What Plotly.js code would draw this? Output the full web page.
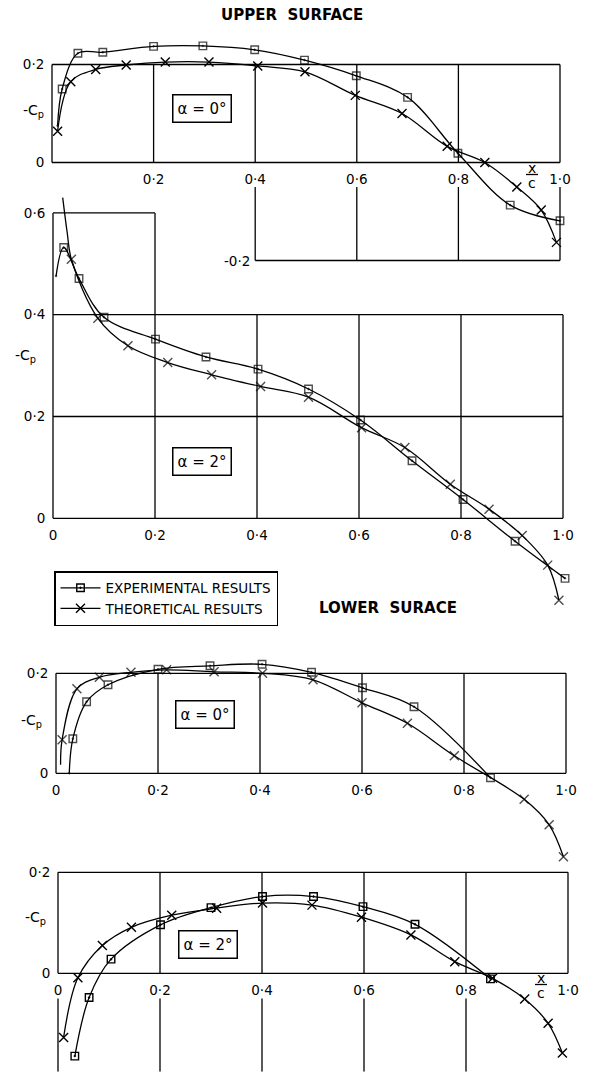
<!DOCTYPE html>
<html>
<head>
<meta charset="utf-8">
<script src="https://cdn.plot.ly/plotly-3.0.1.min.js"></script>
<style>html,body{margin:0;padding:0;background:#fff;}#chart{width:590px;height:1072px;}</style>
</head>
<body>
<div id="chart"></div>
<script>
// ---------------- DATA ----------------
// Upper surface, alpha = 0 deg
const u0ExpLeadX = [0.011];
const u0ExpLeadY = [0.075];
const u0ExpX = [0.020, 0.051, 0.100, 0.200, 0.297, 0.399, 0.497, 0.599, 0.700, 0.799, 0.902, 1.000];
const u0ExpY = [0.150, 0.223, 0.225, 0.237, 0.238, 0.230, 0.209, 0.177, 0.133, 0.019, -0.087, -0.119];
const u0TheoLeadX = [];
const u0TheoLeadY = [];
const u0TheoX = [0.011, 0.037, 0.086, 0.146, 0.223, 0.309, 0.405, 0.498, 0.597, 0.689, 0.778, 0.852, 0.915, 0.963, 0.993];
const u0TheoY = [0.064, 0.165, 0.190, 0.199, 0.205, 0.205, 0.197, 0.185, 0.137, 0.100, 0.033, 0.000, -0.050, -0.097, -0.163];

// Upper surface, alpha = 2 deg
const u2ExpLeadX = [0.006];
const u2ExpLeadY = [0.476];
const u2ExpX = [0.021, 0.051, 0.100, 0.201, 0.300, 0.402, 0.501, 0.603, 0.704, 0.804, 0.906, 1.004];
const u2ExpY = [0.532, 0.471, 0.395, 0.352, 0.317, 0.293, 0.254, 0.193, 0.113, 0.037, -0.045, -0.118];
const u2TheoLeadX = [0.019, 0.028];
const u2TheoLeadY = [0.630, 0.560];
const u2TheoX = [0.036, 0.088, 0.147, 0.225, 0.311, 0.407, 0.501, 0.605, 0.690, 0.779, 0.855, 0.920, 0.970, 0.992];
const u2TheoY = [0.509, 0.393, 0.339, 0.306, 0.282, 0.259, 0.238, 0.178, 0.139, 0.067, 0.018, -0.034, -0.092, -0.161];

// Lower surface, alpha = 0 deg
const l0ExpLeadX = [0.026];
const l0ExpLeadY = [0.000];
const l0ExpX = [0.033, 0.060, 0.102, 0.200, 0.302, 0.404, 0.501, 0.601, 0.702, 0.852];
const l0ExpY = [0.069, 0.143, 0.177, 0.208, 0.215, 0.218, 0.202, 0.171, 0.133, -0.009];
const l0TheoLeadX = [0.009];
const l0TheoLeadY = [0.017];
const l0TheoX = [0.012, 0.041, 0.085, 0.147, 0.217, 0.310, 0.405, 0.504, 0.600, 0.689, 0.781, 0.918, 0.967, 0.995];
const l0TheoY = [0.067, 0.169, 0.192, 0.202, 0.207, 0.203, 0.200, 0.187, 0.141, 0.100, 0.035, -0.052, -0.103, -0.167];

// Lower surface, alpha = 2 deg
const l2ExpLeadX = [];
const l2ExpLeadY = [];
const l2ExpX = [0.033, 0.061, 0.104, 0.201, 0.300, 0.401, 0.501, 0.598, 0.700, 0.848];
const l2ExpY = [-0.164, -0.048, 0.028, 0.096, 0.130, 0.152, 0.152, 0.132, 0.097, -0.011];
const l2TheoLeadX = [];
const l2TheoLeadY = [];
const l2TheoX = [0.011, 0.039, 0.087, 0.144, 0.223, 0.311, 0.401, 0.498, 0.595, 0.692, 0.778, 0.852, 0.915, 0.961, 0.989];
const l2TheoY = [-0.127, -0.009, 0.055, 0.091, 0.115, 0.129, 0.139, 0.135, 0.111, 0.076, 0.023, -0.010, -0.051, -0.099, -0.158];

// Tick labels
const xTicks = [0, 0.2, 0.4, 0.6, 0.8, 1.0];
const xTickText = ["0", "0·2", "0·4", "0·6", "0·8", "1·0"];
const yTicksSmall = [0, 0.2];
const yTickTextSmall = ["0", "0·2"];
const yTicksBig = [0, 0.2, 0.4, 0.6];
const yTickTextBig = ["0", "0·2", "0·4", "0·6"];
const alphaLabels = ["α = 0°", "α = 2°", "α = 0°", "α = 2°"];
const seriesNames = ["EXPERIMENTAL RESULTS", "THEORETICAL RESULTS"];

// ---------------- LAYOUT ----------------
const W = 590, H = 1072;
const FONT = "DejaVu Sans, Liberation Sans, sans-serif";
const panels = [
  {x0: 52, xu: 508, y0: 162.5, yu: 490, xr: [-0.1, 1.04], yr: [-0.23, 0.28]},
  {x0: 53, xu: 510, y0: 518.3, yu: 509, xr: [-0.1, 1.04], yr: [-0.2, 0.66]},
  {x0: 56, xu: 510, y0: 773.3, yu: 500, xr: [-0.1, 1.04], yr: [-0.2, 0.26]},
  {x0: 58, xu: 510, y0: 973.3, yu: 505, xr: [-0.1, 1.04], yr: [-0.195, 0.24]}
];
const series = [
  {exp: [u0ExpLeadX, u0ExpLeadY, u0ExpX, u0ExpY], theo: [u0TheoLeadX, u0TheoLeadY, u0TheoX, u0TheoY]},
  {exp: [u2ExpLeadX, u2ExpLeadY, u2ExpX, u2ExpY], theo: [u2TheoLeadX, u2TheoLeadY, u2TheoX, u2TheoY]},
  {exp: [l0ExpLeadX, l0ExpLeadY, l0ExpX, l0ExpY], theo: [l0TheoLeadX, l0TheoLeadY, l0TheoX, l0TheoY]},
  {exp: [l2ExpLeadX, l2ExpLeadY, l2ExpX, l2ExpY], theo: [l2TheoLeadX, l2TheoLeadY, l2TheoX, l2TheoY]}
];
const xTickSets = [[1, 6], [0, 6], [0, 6], [0, 6]];
const yTickSets = [[yTicksSmall, yTickTextSmall], [yTicksBig, yTickTextBig], [yTicksSmall, yTickTextSmall], [yTicksSmall, yTickTextSmall]];

const layout = {
  width: W, height: H,
  margin: {l: 0, r: 0, t: 0, b: 0, pad: 0},
  paper_bgcolor: "#fff", plot_bgcolor: "rgba(0,0,0,0)",
  font: {family: FONT, color: "#000", size: 13},
  showlegend: true,
  legend: {
    x: 54 / W, y: 1 - 571 / H, xanchor: "left", yanchor: "top",
    bordercolor: "#000", borderwidth: 1.5, bgcolor: "#fff",
    font: {family: FONT, size: 13.5, color: "#000"},
    itemwidth: 40, tracegroupgap: 0
  },
  shapes: [], annotations: []
};

const traces = [];
const LINEW = 1.3;
function seg(i, x0, y0, x1, y1) {
  const s = i === 0 ? "" : String(i + 1);
  layout.shapes.push({type: "line", xref: "x" + s, yref: "y" + s, x0: x0, y0: y0, x1: x1, y1: y1,
    line: {color: "#000", width: LINEW}, layer: "below"});
}

panels.forEach((p, i) => {
  const s = i === 0 ? "" : String(i + 1);
  const xd = [(p.x0 + p.xr[0] * p.xu) / W, (p.x0 + p.xr[1] * p.xu) / W];
  const yd = [1 - (p.y0 - p.yr[0] * p.yu) / H, 1 - (p.y0 - p.yr[1] * p.yu) / H];
  const xt = xTickSets[i];
  layout["xaxis" + s] = {
    domain: xd, range: p.xr, anchor: "free", position: 1 - p.y0 / H,
    showgrid: false, zeroline: false, showline: false,
    tickmode: "array", tickvals: xTicks.slice(xt[0], xt[1]), ticktext: xTickText.slice(xt[0], xt[1]),
    ticks: "outside", ticklen: 4, tickcolor: "rgba(0,0,0,0)",
    tickfont: {family: FONT, size: 13.5, color: "#000"}, fixedrange: true
  };
  layout["yaxis" + s] = {
    domain: yd, range: p.yr, anchor: "free", position: p.x0 / W,
    showgrid: false, zeroline: false, showline: false,
    tickmode: "array", tickvals: yTickSets[i][0], ticktext: yTickSets[i][1],
    ticks: "outside", ticklen: 5, tickcolor: "rgba(0,0,0,0)",
    tickfont: {family: FONT, size: 13.5, color: "#000"}, fixedrange: true
  };

  const mk = (d, name, symbol, size, lw) => {
    const xs = d[0].concat(d[2]);
    const ys = d[1].concat(d[3]);
    const sz = d[0].length ? xs.map((_, k) => (k < d[0].length ? 0 : size)) : size;
    return {
      type: "scatter", mode: "lines+markers", x: xs, y: ys,
      xaxis: "x" + s, yaxis: "y" + s, name: name, showlegend: i === 3,
      line: {color: "#000", width: 1.3, shape: "spline", smoothing: 1},
      marker: {symbol: symbol, size: sz, color: "#000", line: {color: "#000", width: lw}},
      cliponaxis: false, hoverinfo: "skip"
    };
  };
  traces.push(mk(series[i].exp, seriesNames[0], "square-open-dot", 7.5, 1.4));
  traces.push(mk(series[i].theo, seriesNames[1], "x-thin-open", 9, 1.4));

  // alpha label boxes
  const ap = [[0.296, 0.111], [0.292, 0.111], [0.292, 0.117], [0.294, 0.058]][i];
  layout.annotations.push({xref: "x" + s, yref: "y" + s, x: ap[0], y: ap[1], text: alphaLabels[i],
    xanchor: "center", yanchor: "middle",
    showarrow: false, font: {family: FONT, size: 15, color: "#000"},
    bordercolor: "#000", borderwidth: 1.5, borderpad: 4, bgcolor: "#fff"});
});

// frames / grids
xTicks.forEach(v => seg(0, v, 0, v, 0.2));
[0, 0.2].forEach(v => seg(0, 0, v, 1, v));
xTicks.filter(v => v >= 0.4).forEach(v => seg(0, v, -0.05, v, -0.2));
seg(0, 0.4, -0.2, 1, -0.2);

xTicks.forEach(v => seg(1, v, 0, v, v <= 0.2 ? 0.6 : 0.4));
[0, 0.2, 0.4].forEach(v => seg(1, 0, v, 1, v));
seg(1, 0, 0.6, 0.2, 0.6);

xTicks.forEach(v => seg(2, v, 0, v, 0.2));
[0, 0.2].forEach(v => seg(2, 0, v, 1, v));

xTicks.forEach(v => seg(3, v, 0, v, 0.2));
[0, 0.2].forEach(v => seg(3, 0, v, 1, v));
xTicks.filter(v => v <= 0.8).forEach(v => seg(3, v, -0.05, v, -0.195));

// extra texts
const ann = layout.annotations;
function paperText(px, py, text, font) {
  ann.push({xref: "paper", yref: "paper", x: px / W, y: 1 - py / H, text: text, showarrow: false,
    xanchor: "center", yanchor: "middle", font: font});
}
ann.push({xref: "x", yref: "y", x: 0.4, y: -0.2, text: "-0·2", showarrow: false, xanchor: "right", yanchor: "middle",
  xshift: -3, font: {family: FONT, size: 13.5, color: "#000"}});
[[33, 111], [25, 356], [31, 721], [35, 918]].forEach(c =>
  paperText(c[0], c[1], "-C<sub>p</sub>", {family: FONT, size: 14, color: "#000"}));
paperText(291.5, 15, "UPPER&nbsp;&nbsp;SURFACE", {family: FONT, size: 15, color: "#000", weight: "bold"});
paperText(388, 608, "LOWER&nbsp;&nbsp;SURACE", {family: FONT, size: 15, color: "#000", weight: "bold"});
// x/c labels
[[532, 167.5, 174.5, 182.5], [541, 977.5, 984.5, 992.5]].forEach(c => {
  paperText(c[0], c[1], "x", {family: FONT, size: 14, color: "#000"});
  paperText(c[0], c[3], "c", {family: FONT, size: 14, color: "#000"});
  layout.shapes.push({type: "line", xref: "paper", yref: "paper", x0: (c[0] - 6) / W, x1: (c[0] + 6) / W,
    y0: 1 - c[2] / H, y1: 1 - c[2] / H, line: {color: "#000", width: 1.3}});
});

Plotly.newPlot("chart", traces, layout, {staticPlot: true, displayModeBar: false});
</script>
</body>
</html>
